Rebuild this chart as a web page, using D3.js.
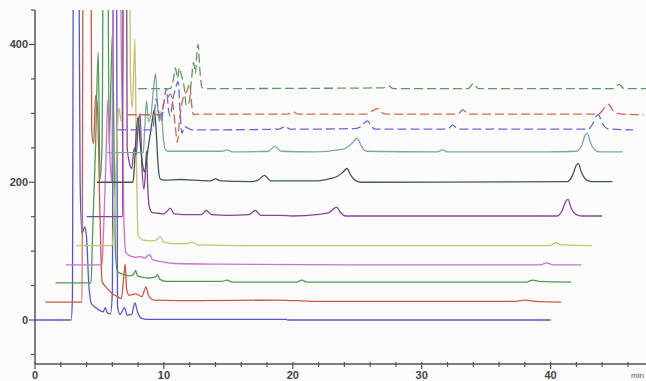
<!DOCTYPE html>
<html>
<head>
<meta charset="utf-8">
<script src="https://cdn.jsdelivr.net/npm/d3@7"></script>
<style>
  body { margin: 0; background: #fcfcfc; }
  svg { display: block; }
  text { font-family: "Liberation Sans", Arial, sans-serif; }
</style>
</head>
<body>
<svg id="chart" width="646" height="381"></svg>
<script>
// axis labels
const xTickLabels = [0, 10, 20, 30, 40];
const yTickLabels = [0, 200, 400];
const xUnit = "min";

// each run is drawn shifted right (min) and up (mAU) from the one below
const runShift = [0, 0.8, 1.6, 2.4, 3.2, 4.0, 4.8, 5.6, 6.4, 7.2, 8.0];
const runBase = [0, 26, 54, 80, 108, 150, 200, 243, 276, 298, 336];

// [time within run, signal above its baseline]; 700 = off scale
const run1 = [[0,0],[2.8,0],[2.9,30],[3.0,700],[3.35,700],[3.5,200],[3.65,125],[3.85,135],[4.0,120],[4.15,60],[4.35,25],[4.7,18],[5.0,14],[5.3,12],[5.45,18],[5.6,11],[5.85,9],[6.0,40],[6.1,700],[6.3,700],[6.4,20],[6.6,8],[6.95,18],[7.15,7],[7.5,8],[7.75,25],[7.95,12],[8.2,3],[8.6,1],[19.5,1],[19.6,0],[40,0]];
const run2 = [[0,0],[2.85,0],[2.95,700],[3.5,700],[3.6,250],[3.75,230],[3.9,300],[4.05,280],[4.25,120],[4.4,30],[4.7,22],[5.2,12],[5.6,8],[5.9,5],[6.1,40],[6.2,55],[6.3,20],[6.5,10],[7.0,12],[7.5,8],[7.8,22],[8.0,10],[8.4,3],[12,2],[18,3],[21,1],[36.5,1],[37.2,3],[38,1],[40,0]];
const run3 = [[0,0],[2.75,0],[2.85,60],[3.1,200],[3.3,335],[3.45,150],[3.6,200],[3.75,700],[4.0,700],[4.15,200],[4.3,300],[4.4,360],[4.5,250],[4.65,40],[4.8,16],[5.3,12],[5.8,10],[6.1,14],[6.2,18],[6.35,10],[6.8,8],[7.2,7],[7.8,9],[7.9,12],[8.1,5],[8.6,2],[12.9,2],[13.3,4],[13.7,1],[18.7,1],[19.1,4],[19.5,1],[36.5,1],[37.0,4],[37.5,2],[40,1]];
const run4 = [[0,0],[2.8,0],[2.9,40],[3.1,150],[3.25,240],[3.4,160],[3.55,120],[3.75,700],[4.1,700],[4.3,300],[4.5,60],[4.65,18],[5.0,13],[5.4,11],[5.8,12],[6.1,10],[6.5,15],[6.7,8],[7.3,5],[8.5,2],[12,1],[22,0],[36.8,0],[37.3,3],[37.8,0],[40,0]];
const run5 = [[0,0],[2.8,0],[2.9,30],[3.1,120],[3.3,200],[3.5,180],[3.7,400],[3.8,700],[4.05,700],[4.2,250],[4.35,200],[4.55,300],[4.65,150],[4.8,15],[5.2,8],[5.8,7],[6.2,8],[6.5,13],[6.8,5],[7.5,3],[8.6,3],[9.0,5],[9.4,1],[13,0],[36.7,0],[37.2,4],[37.7,1],[40,0]];
const run6 = [[0,0],[2.8,0],[2.85,700],[3.05,700],[3.15,100],[3.3,80],[3.5,70],[3.7,100],[3.85,90],[4.0,130],[4.15,150],[4.3,70],[4.45,40],[4.55,60],[4.65,95],[4.75,40],[4.9,12],[5.1,6],[5.6,5],[6.0,4],[6.2,7],[6.5,12],[6.8,4],[7.5,3],[8.9,3],[9.3,9],[9.7,3],[11,2],[12.6,3],[13.1,9],[13.5,2],[15,2],[16,1],[17.8,3],[18.8,6],[19.2,12],[19.4,14],[19.7,6],[20.1,1],[36.5,1],[36.9,9],[37.2,23],[37.35,25],[37.6,12],[38.0,3],[38.4,1],[40,1]];
const run7 = [[0,0],[2.8,0],[2.9,20],[3.05,70],[3.2,95],[3.35,60],[3.55,25],[3.7,15],[3.9,40],[4.1,65],[4.3,90],[4.45,105],[4.6,75],[4.75,25],[4.9,5],[5.2,3],[6.5,4],[7.5,3],[8.8,2],[9.2,5],[9.6,2],[12,1],[12.5,3],[13.0,10],[13.5,2],[17,2],[18,5],[18.7,9],[19.1,15],[19.4,20],[19.7,10],[20.1,2],[20.5,0],[36.5,1],[36.9,10],[37.2,25],[37.35,27],[37.6,14],[38.0,3],[38.4,1],[40,1]];
const run8 = [[0,0],[2.8,0],[2.9,30],[3.05,75],[3.2,45],[3.4,55],[3.6,95],[3.75,115],[3.9,70],[4.05,45],[4.2,60],[4.35,22],[4.5,5],[4.7,2],[8.9,2],[9.3,4],[9.7,1],[12.5,2],[13.0,9],[13.5,2],[16,1],[18.3,5],[18.9,12],[19.2,18],[19.4,21],[19.7,10],[20.1,2],[25.6,1],[26.0,4],[26.4,1],[34,1],[36.4,2],[36.8,10],[37.1,26],[37.25,28],[37.5,14],[37.9,3],[38.3,1],[40,1]];
const run9 = [[0,0],[2.75,0],[2.85,20],[3.0,45],[3.2,25],[3.4,12],[3.6,40],[3.8,60],[3.95,30],[4.1,20],[4.3,45],[4.5,60],[4.7,70],[4.85,30],[5.0,-5],[5.2,5],[5.5,2],[5.8,0],[12.5,1],[13.0,5],[13.4,1],[18.4,2],[18.9,5],[19.2,11],[19.4,13],[19.7,5],[20.0,1],[25.6,1],[26.0,7],[26.4,1],[36.5,1],[36.9,10],[37.15,20],[37.3,22],[37.6,10],[38.0,2],[38.4,1],[40,0]];
const run10 = [[0,0],[2.65,0],[2.75,15],[3.0,22],[3.3,30],[3.5,15],[3.7,-20],[3.85,-40],[4.0,-10],[4.3,25],[4.6,35],[4.8,45],[4.95,15],[5.1,0],[5.4,1],[12.4,1],[12.8,4],[13.2,1],[18.5,1],[19.1,7],[19.4,9],[19.8,2],[20.1,1],[25.6,1],[26.0,7],[26.4,1],[36.5,1],[36.9,8],[37.15,14],[37.3,15],[37.6,7],[38.0,2],[38.4,1],[40,0]];
const run11 = [[0,0],[2.5,0],[2.7,10],[2.9,30],[3.05,15],[3.2,30],[3.35,20],[3.55,5],[3.75,-25],[3.95,-20],[4.15,15],[4.3,38],[4.45,22],[4.55,48],[4.65,64],[4.8,25],[4.95,2],[5.2,0],[19.0,1],[19.4,4],[19.8,0],[25.6,0],[26.0,7],[26.4,0],[36.9,0],[37.3,6],[37.7,0],[40,0]];

const runs = [run1, run2, run3, run4, run5, run6, run7, run8, run9, run10, run11];
const runColors = ["#5656cc", "#c85a46", "#519b52", "#cf6fcf", "#c9c16c", "#864696", "#3f5a45", "#7ea89f", "#6a6ad0", "#d0684e", "#5f9b5f"];
const runDashed = [false, false, false, false, false, false, false, false, true, true, true];

const width = 646, height = 381;
const plotLeft = 35, plotTop = 10, plotBottom = 364;

const x = d3.scaleLinear().domain([0, 47.4]).range([plotLeft, width]);
const y = d3.scaleLinear().domain([0, 400]).range([320, 44.5]);

const svg = d3.select("#chart");

svg.append("defs").append("clipPath").attr("id", "plot")
  .append("rect")
  .attr("x", plotLeft).attr("y", plotTop)
  .attr("width", width - plotLeft).attr("height", plotBottom - plotTop);

const traces = svg.append("g").attr("clip-path", "url(#plot)");
runs.forEach((pts, i) => {
  const line = d3.line()
    .curve(d3.curveMonotoneX)
    .x(d => x(runShift[i] + d[0]))
    .y(d => y(runBase[i] + d[1]));
  traces.append("path")
    .datum(pts)
    .attr("d", line)
    .attr("fill", "none")
    .attr("stroke", runColors[i])
    .attr("stroke-width", 1.3)
    .attr("stroke-linejoin", "round")
    .attr("stroke-dasharray", runDashed[i] ? "9,4" : null);
});

// y axis
const yAxis = svg.append("g").attr("transform", `translate(${plotLeft},0)`);
yAxis.append("line")
  .attr("y1", plotTop).attr("y2", plotBottom)
  .attr("stroke", "#555").attr("stroke-width", 1.5);
yAxis.selectAll(".tick")
  .data(d3.range(-50, 451, 50))
  .join("line")
  .attr("class", "tick")
  .attr("x1", d => yTickLabels.includes(d) ? -6 : -4).attr("x2", 0)
  .attr("y1", d => y(d)).attr("y2", d => y(d))
  .attr("stroke", "#555").attr("stroke-width", 1.2);
yAxis.selectAll("text")
  .data(yTickLabels)
  .join("text")
  .attr("x", -7).attr("y", d => y(d))
  .attr("dy", "0.35em")
  .attr("text-anchor", "end")
  .attr("font-size", 11).attr("font-weight", "bold")
  .attr("fill", "#444")
  .text(d => d);

// x axis
const xAxis = svg.append("g").attr("transform", `translate(0,${plotBottom})`);
xAxis.append("line")
  .attr("x1", plotLeft).attr("x2", width)
  .attr("stroke", "#555").attr("stroke-width", 1.5);
xAxis.selectAll(".tick")
  .data(d3.range(0, 48, 2))
  .join("line")
  .attr("class", "tick")
  .attr("x1", d => x(d)).attr("x2", d => x(d))
  .attr("y1", -2)
  .attr("y2", d => d % 10 === 0 ? 5 : 3)
  .attr("stroke", "#555").attr("stroke-width", 1.2);
xAxis.selectAll("text.lbl")
  .data(xTickLabels)
  .join("text")
  .attr("class", "lbl")
  .attr("x", d => x(d)).attr("y", 15)
  .attr("text-anchor", "middle")
  .attr("font-size", 11).attr("font-weight", "bold")
  .attr("fill", "#444")
  .text(d => d);
xAxis.append("text")
  .attr("x", width - 2).attr("y", 14)
  .attr("text-anchor", "end")
  .attr("font-size", 8)
  .attr("fill", "#555")
  .text(xUnit);
</script>
</body>
</html>
